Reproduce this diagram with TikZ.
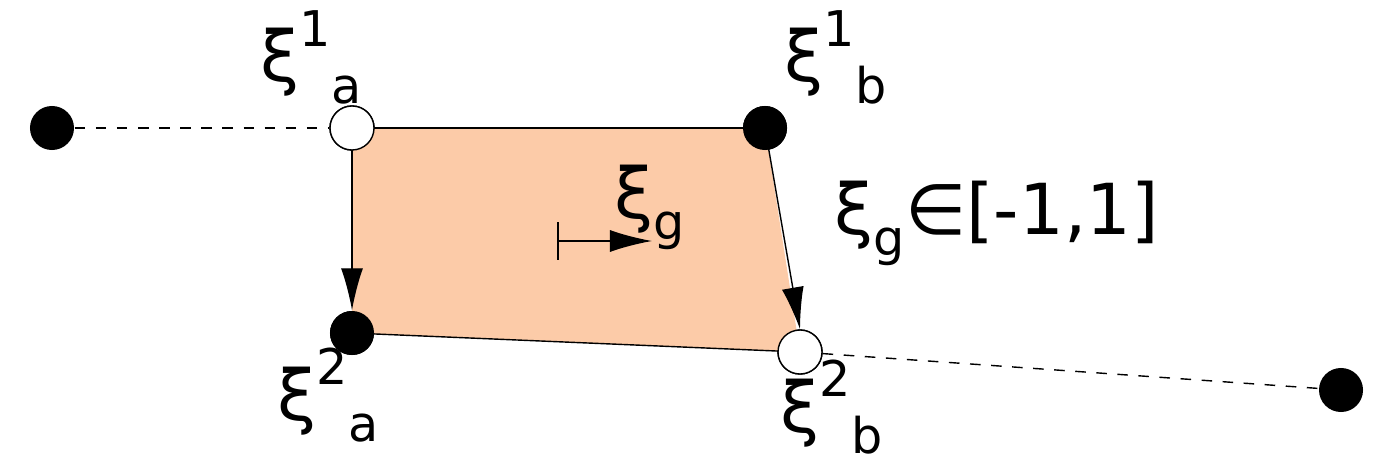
\documentclass[tikz,border=0pt]{standalone}
\usepackage{fontspec}
\setmainfont{DejaVu Sans}
\usetikzlibrary{arrows.meta}
\newcommand{\lbl}[2]{ξ\raisebox{0.5em}{\fontsize{14}{14}\selectfont #1}\raisebox{-0.3em}{\fontsize{14}{14}\selectfont #2}}
\begin{document}
\begin{tikzpicture}[x=0.01cm,y=-0.01cm,
  full/.style={circle,fill=black,minimum size=0.44cm,inner sep=0},
  open/.style={circle,draw=black,fill=white,minimum size=0.44cm,inner sep=0},
  tip/.style={-{Latex[length=0.42cm,width=0.22cm]}},
  lab/.style={font=\fontsize{20}{20}\selectfont,inner sep=0}]
\useasboundingbox (0,0) rectangle (1392,461);
\node[full] (l) at (52,128) {};
\node[open] (a1) at (352,128) {};
\node[full] (b1) at (765,128) {};
\node[full] (a2) at (352,333) {};
\node[open] (b2) at (800,352) {};
\node[full] (r) at (1341,390) {};
\fill[fill={rgb,255:red,252;green,203;blue,168}] (a1.center) -- (b1.center) -- (b2.center) -- (a2.center) -- cycle;
\draw (a1.center) -- (b1.center);
\draw (a2.center) -- (b2.center);
\draw[tip] (a1.center) -- (a2.north);
\draw[tip] (b1.center) -- (b2.north);
\draw[dashed] (l) -- (a1);
\draw[dashed] (b2) -- (r);
\node[open] at (352,128) {};
\node[full] at (765,128) {};
\node[full] at (352,333) {};
\node[open] at (800,352) {};
\coordinate (t0) at (558,241);
\coordinate (t1) at (652,241);
\draw (558,222) -- (558,260);
\draw[tip] (t0) -- (t1);
\node[lab,anchor=base west] (la1) at (260,82) {\lbl{1}{a}};
\node[lab,anchor=base west] (lb1) at (784,82) {\lbl{1}{b}};
\node[lab,anchor=base west] (la2) at (277,420) {\lbl{2}{a}};
\node[lab,anchor=base west] (lb2) at (780,432) {\lbl{2}{b}};
\node[lab,anchor=base west] (g) at (614,218) {ξ\raisebox{-0.3em}{\fontsize{14}{14}\selectfont g}};
\node[lab,anchor=base west] (rng) at (834,234) {ξ\raisebox{-0.3em}{\fontsize{14}{14}\selectfont g}∈[-1,1]};
\end{tikzpicture}
\end{document}
